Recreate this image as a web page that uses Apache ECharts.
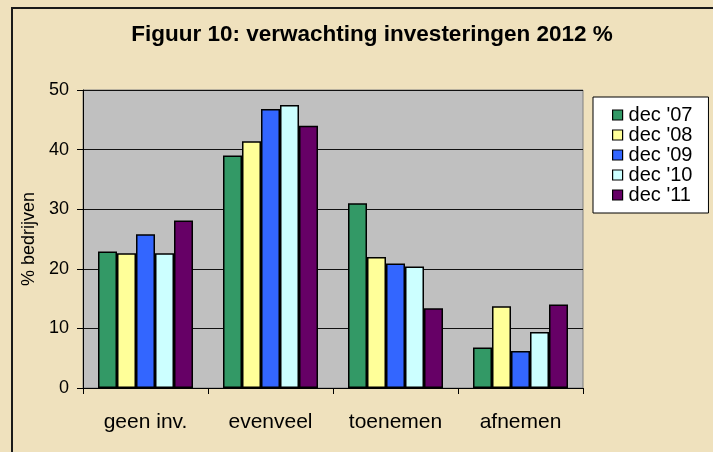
<!DOCTYPE html>
<html>
<head>
<meta charset="utf-8">
<script src="https://cdn.jsdelivr.net/npm/echarts@6/dist/echarts.min.js"></script>
<style>
  html, body { margin: 0; padding: 0; }
  body { width: 713px; height: 452px; overflow: hidden; background: #efe1bd; position: relative; }
  #frame { position: absolute; left: 11px; top: 7px; width: 760px; height: 500px; border: 2px solid #1a1a1a; box-sizing: border-box; }
  #chart { position: absolute; left: 0; top: 0; width: 713px; height: 452px; }
</style>
</head>
<body>
<div id="frame"></div>
<div id="chart"></div>
<script>
const categories = ['geen inv.', 'evenveel', 'toenemen', 'afnemen']
const seriesNames = ["dec '07", "dec '08", "dec '09", "dec '10", "dec '11"]
const dec07 = [22.9, 39.0, 31.0, 6.8]
const dec08 = [22.6, 41.4, 22.0, 13.7]
const dec09 = [25.8, 46.8, 20.9, 6.2]
const dec10 = [22.6, 47.5, 20.4, 9.4]
const dec11 = [28.1, 44.0, 13.4, 14.0]
const colors = ['#339966', '#ffff99', '#3366ff', '#ccffff', '#660066']

const allValues = [dec07, dec08, dec09, dec10, dec11]
const font = 'Liberation Sans, Arial, sans-serif'

const chart = echarts.init(document.getElementById('chart'))
chart.setOption({
  animation: false,
  title: {
    text: 'Figuur 10: verwachting investeringen 2012 %',
    left: 367,
    textAlign: 'center',
    top: 18,
    textStyle: { fontFamily: font, fontSize: 22.5, fontWeight: 'bold', color: '#000' }
  },
  legend: {
    orient: 'vertical',
    left: 593,
    top: 97,
    padding: [8, 16, 8, 19],
    itemGap: 0,
    itemWidth: 10,
    itemHeight: 10,
    backgroundColor: '#fff',
    borderColor: '#000',
    borderWidth: 1,
    borderRadius: 0,
    icon: 'rect',
    data: seriesNames,
    itemStyle: { borderColor: '#000', borderWidth: 1.2 },
    textStyle: { fontFamily: font, fontSize: 20, lineHeight: 20, color: '#000', padding: [0, 0, 0, 1] }
  },
  grid: {
    left: 83,
    top: 90,
    right: 130,
    bottom: 64,
    show: true,
    backgroundColor: '#c0c0c0',
    borderColor: '#808080',
    borderWidth: 1
  },
  xAxis: {
    type: 'category',
    data: categories,
    axisLine: { lineStyle: { color: '#000', width: 1 } },
    axisTick: { show: true, length: 6, lineStyle: { color: '#000' } },
    axisLabel: { fontFamily: font, fontSize: 21, color: '#000', margin: 24 }
  },
  yAxis: {
    type: 'value',
    min: 0,
    max: 50,
    interval: 10,
    name: '% bedrijven',
    nameLocation: 'middle',
    nameGap: 45,
    nameTextStyle: { fontFamily: font, fontSize: 18, color: '#000' },
    axisLine: { show: true, lineStyle: { color: '#000', width: 1 } },
    axisTick: { show: true, length: 6, lineStyle: { color: '#000' } },
    axisLabel: { fontFamily: font, fontSize: 18, color: '#000', margin: 14 },
    splitLine: { lineStyle: { color: '#111', width: 1 } }
  },
  series: seriesNames.map((name, i) => ({
    name: name,
    type: 'bar',
    data: allValues[i],
    barGap: '0%',
    barCategoryGap: '24%',
    itemStyle: { color: colors[i], borderColor: '#000', borderWidth: 1.5 }
  }))
})
</script>
</body>
</html>
